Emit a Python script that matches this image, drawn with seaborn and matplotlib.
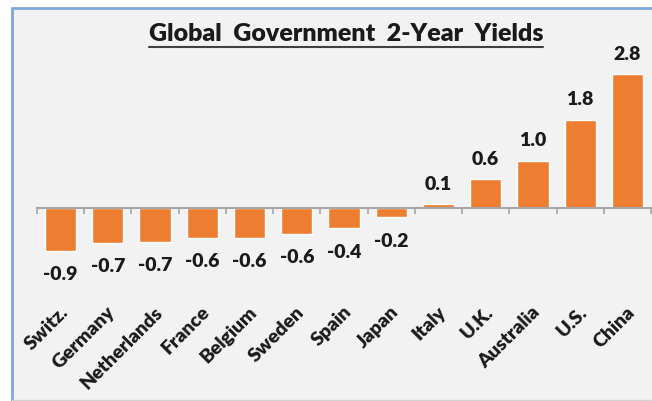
"""
Global government 2-year yields bar chart
"""
import numpy as np
import pandas as pd
import matplotlib
matplotlib.use('Agg')
import matplotlib.pyplot as plt
from matplotlib.patches import Rectangle
from matplotlib.lines import Line2D
from matplotlib.transforms import ScaledTranslation
import seaborn as sns

# Data
countries = ['Switz.', 'Germany', 'Netherlands', 'France', 'Belgium', 'Sweden',
             'Spain', 'Japan', 'Italy', 'U.K.', 'Australia', 'U.S.', 'China']
yields = [-0.91, -0.74, -0.72, -0.64, -0.64, -0.56,
          -0.44, -0.21, 0.07, 0.59, 0.98, 1.84, 2.80]
title_text = 'Global  Government  2-Year  Yields'

BAR_COLOR = '#ED7D31'
BG_COLOR = '#F2F2F2'
FRAME_COLOR = '#7EA6D8'
AXIS_COLOR = '#A6A6A6'
TEXT_COLOR = '#1A1A1A'

W, H, DPI = 652, 401, 100

sns.set_theme(style='white')
plt.rcParams['font.family'] = ['Lato', 'DejaVu Sans']
plt.rcParams['font.weight'] = 'bold'

df = pd.DataFrame({'country': countries, 'yield': yields})

fig = plt.figure(figsize=(W / DPI, H / DPI), dpi=DPI)
fig.patch.set_facecolor('white')

# Chart frame (light gray area with blue border)
frame = Rectangle((12 / W, -0.05), 1.0, 1 - 8 / H + 0.05, transform=fig.transFigure,
                  facecolor=BG_COLOR, edgecolor=FRAME_COLOR, linewidth=2, zorder=-5)
fig.patches.append(frame)
fig.add_artist(Line2D([12 / W, 1], [1.5 / H, 1.5 / H], color='#D0D0D0', lw=1, zorder=-4))

# Axes placement in pixels
left_px, right_px = 37, 651
top_px, bottom_px = 20, 300
zero_px = 207.5
px_per_unit = 47.6
ax = fig.add_axes([left_px / W, 1 - bottom_px / H,
                   (right_px - left_px) / W, (bottom_px - top_px) / H])
ax.set_facecolor('none')
ax.set_zorder(2)

sns.barplot(data=df, x='country', y='yield', color=BAR_COLOR, saturation=1,
            width=0.66, ax=ax)

ax.set_xlim(-0.5, len(countries) - 0.5)
ax.set_ylim(-(bottom_px - zero_px) / px_per_unit, (zero_px - top_px) / px_per_unit)

# Axis line at zero with tick marks between categories
for side in ['top', 'right', 'left']:
    ax.spines[side].set_visible(False)
ax.spines['bottom'].set_position(('data', 0))
ax.spines['bottom'].set_color(AXIS_COLOR)
ax.spines['bottom'].set_linewidth(1.5)
ax.set_xticks(np.arange(-0.5, len(countries)), minor=True)
ax.tick_params(axis='x', which='minor', length=4, width=1.2, color=AXIS_COLOR,
               direction='out', bottom=True)
ax.tick_params(axis='x', which='major', length=0, pad=69, labelsize=14,
               labelcolor=TEXT_COLOR)
ax.set_yticks([])
ax.set_xlabel('')
ax.set_ylabel('')

for lab in ax.get_xticklabels():
    lab.set_rotation(45)
    lab.set_ha('right')
    lab.set_rotation_mode('anchor')
    lab.set_fontweight('heavy')
    lab.set_transform(lab.get_transform() + ScaledTranslation(-1 / 72, 0, fig.dpi_scale_trans))

# Value labels: above positive bars, below negative ones
for bar, v in zip(ax.containers[0], yields):
    off = 14.5 if v >= 0 else -17
    ax.annotate(f'{v:.1f}', xy=(bar.get_x() + bar.get_width() / 2, v),
                xytext=(0, off), textcoords='offset points', ha='center', va='center',
                fontsize=14, fontweight='heavy', color=TEXT_COLOR)

# Underlined title
title = fig.text(346 / W, 1 - 34 / H, title_text, ha='center', va='center',
                 fontsize=18, fontweight='heavy', color=TEXT_COLOR)
fig.canvas.draw()
bb = title.get_window_extent()
uy = 1 - 47 / H
fig.add_artist(Line2D([bb.x0 / W, bb.x1 / W], [uy, uy], color='#404040', lw=1.5))

fig.savefig('out.png', dpi=DPI, facecolor=fig.get_facecolor())
